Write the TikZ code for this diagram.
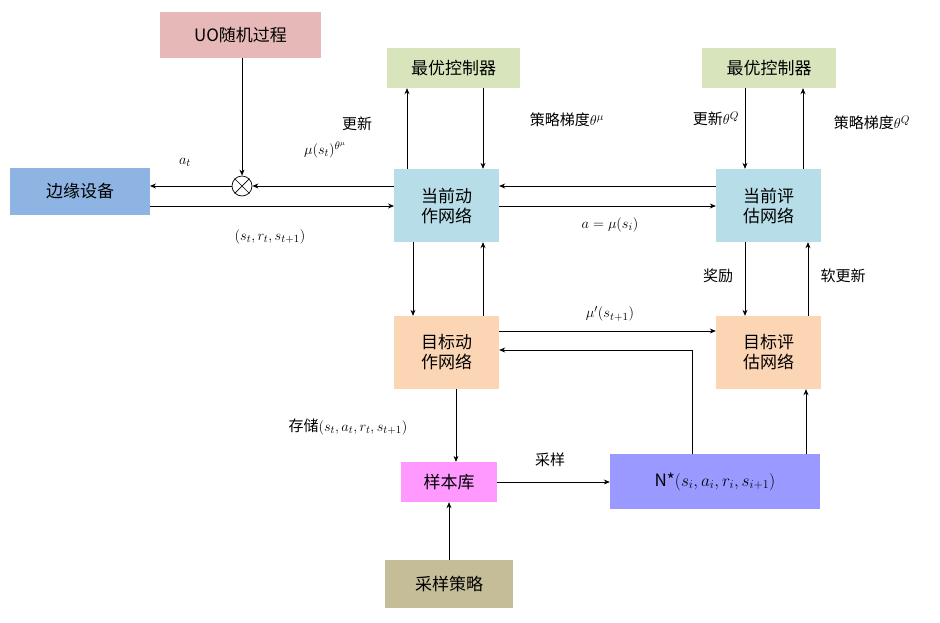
\documentclass[tikz,border=0pt]{standalone}
\usepackage{fontspec}
\setmainfont{Noto Sans CJK SC}
\usetikzlibrary{arrows.meta}
\definecolor{uopink}{HTML}{E6B8B7}
\definecolor{edgeblue}{HTML}{8DB4E2}
\definecolor{optgreen}{HTML}{D8E4BC}
\definecolor{curblue}{HTML}{B7DEE8}
\definecolor{tgtpeach}{HTML}{FCD5B4}
\definecolor{poolpink}{HTML}{FF99FF}
\definecolor{batchpurple}{HTML}{9999FF}
\definecolor{samplekhaki}{HTML}{C4BD97}
\tikzset{
  box/.style={draw=none, inner sep=0pt, align=center, font=\fontsize{17}{20}\selectfont},
  lbl/.style={font=\fontsize{15}{18}\selectfont, inner sep=1pt},
  arr/.style={-{Stealth[length=6pt,width=5pt]}, line width=0.7pt}
}
\begin{document}
\begin{tikzpicture}[x=1pt,y=-1pt]
    \useasboundingbox (0,0) rectangle (940,622);

    % boxes, given by their corners in the picture
    \node[box, fill=uopink, minimum width=161, minimum height=46] (uo) at (240.5,35) {UO随机过程};
    \node[box, fill=edgeblue, minimum width=140, minimum height=47] (edge) at (80,191.5) {边缘设备};
    \node[box, fill=optgreen, minimum width=133, minimum height=40] (optL) at (453.5,68) {最优控制器};
    \node[box, fill=optgreen, minimum width=134, minimum height=40] (optR) at (769,68) {最优控制器};
    \node[box, fill=curblue, minimum width=105, minimum height=73] (actor) at (446.5,205.5) {当前动\\作网络};
    \node[box, fill=curblue, minimum width=105, minimum height=73] (critic) at (768.5,205.5) {当前评\\估网络};
    \node[box, fill=tgtpeach, minimum width=105, minimum height=73] (tactor) at (446.5,352.5) {目标动\\作网络};
    \node[box, fill=tgtpeach, minimum width=105, minimum height=73] (tcritic) at (768.5,352.5) {目标评\\估网络};
    \node[box, fill=poolpink, minimum width=96, minimum height=40] (pool) at (449,482) {样本库};
    \node[box, fill=batchpurple, minimum width=210, minimum height=55] (batch) at (715,481.5) {N*$(s_i,a_i,r_i,s_{i+1})$};
    \node[box, fill=samplekhaki, minimum width=128, minimum height=48] (policy) at (449,584) {采样策略};

    % noise mixing point
    \node[draw, circle, minimum size=20, inner sep=0pt, line width=0.7pt] (mix) at (242,186) {};
    \draw[line width=0.7pt] (mix.north west) -- (mix.south east) (mix.north east) -- (mix.south west);

    % coordinates for the connector ends
    \coordinate (eR1) at (150,186);
    \coordinate (eR2) at (150,206);
    \coordinate (aL2) at (394,206);
    \coordinate (aL1) at (394,186);

    % edge device and current actor
    \draw[arr] (uo.south -| mix) -- (mix.north);
    \draw[arr] (mix.west) -- (eR1);
    \draw[arr] (aL1) -- (mix.east);
    \draw[arr] (eR2) -- (aL2);
    \node[lbl] at (185,162) {$a_t$};
    \node[lbl] at (325,150) {$\mu(s_t)^{\theta^\mu}$};
    \node[lbl] at (357,124) {更新};
    \node[lbl] at (270,237) {$(s_t,r_t,s_{t+1})$};

    % left optimal controller
    \draw[arr] (actor.north -| 407,0) -- (optL.south -| 407,0);
    \draw[arr] (optL.south -| 483,0) -- (actor.north -| 483,0);
    \node[lbl] at (567,120) {策略梯度$\theta^\mu$};

    % current actor and current critic
    \draw[arr] (critic.west |- 0,186) -- (actor.east |- 0,186);
    \draw[arr] (actor.east |- 0,206) -- (critic.west |- 0,206);
    \node[lbl] at (610,225) {$a=\mu(s_i)$};

    % right optimal controller
    \draw[arr] (optR.south -| 745,0) -- (critic.north -| 745,0);
    \draw[arr] (critic.north -| 803,0) -- (optR.south -| 803,0);
    \node[lbl] at (716,119) {更新$\theta^Q$};
    \node[lbl] at (872,123) {策略梯度$\theta^Q$};

    % current and target networks
    \draw[arr] (actor.south -| 413,0) -- (tactor.north -| 413,0);
    \draw[arr] (tactor.north -| 483,0) -- (actor.south -| 483,0);
    \draw[arr] (critic.south -| 745,0) -- (tcritic.north -| 745,0);
    \draw[arr] (tcritic.north -| 808,0) -- (critic.south -| 808,0);
    \node[lbl] at (718,276) {奖励};
    \node[lbl] at (843,276) {软更新};

    % target actor to target critic
    \draw[arr] (tactor.east |- 0,331) -- (tcritic.west |- 0,331);
    \node[lbl] at (610,314) {$\mu'(s_{t+1})$};

    % mini-batch back to the targets
    \draw[arr] (batch.north -| 692,0) |- (tactor.east |- 0,350);
    \draw[arr] (batch.north -| 806,0) -- (tcritic.south -| 806,0);

    % replay pool
    \draw[arr] (tactor.south -| 456,0) -- (pool.north -| 456,0);
    \node[lbl] at (348,427) {存储$(s_t,a_t,r_t,s_{t+1})$};
    \draw[arr] (pool.east) -- (batch.west |- pool.east);
    \node[lbl] at (550,460) {采样};
    \draw[arr] (policy.north) -- (pool.south);

\end{tikzpicture}
\end{document}
